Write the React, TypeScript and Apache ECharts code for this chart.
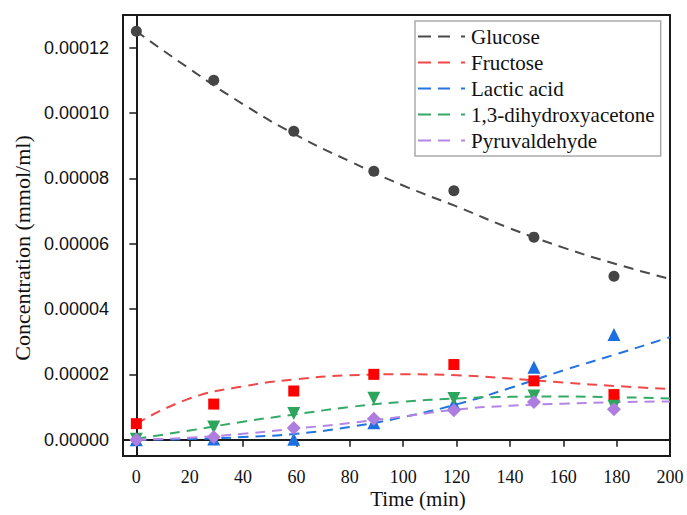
import React, { useEffect, useRef } from "react";
import * as echarts from "echarts";

const timePoints = [0, 29, 59, 89, 119, 149, 179];
const glucosePts = [0.000125, 0.00011, 0.0000944, 0.0000822, 0.0000762, 0.000062, 0.00005];
const fructosePts = [0.0000049, 0.0000109, 0.0000149, 0.00002, 0.000023, 0.000018, 0.0000138];
const lacticPts = [0, 0.0000002, 0.0000001, 0.0000052, 0.000011, 0.0000222, 0.0000322];
const dhaPts = [0.0000001, 0.0000039, 0.000008, 0.0000127, 0.0000126, 0.0000134, 0.0000102];
const pyruPts = [0, 0.0000008, 0.0000036, 0.0000064, 0.000009, 0.0000115, 0.0000093];

const fitTimes = [0, 20, 40, 60, 80, 100, 120, 140, 160, 180, 200];
const glucoseFit = [0.000125, 0.0001135, 0.0001027, 0.0000932, 0.0000852, 0.0000778, 0.0000714, 0.0000647, 0.0000588, 0.0000537, 0.0000492];
const fructoseFit = [0.0000049, 0.0000126, 0.0000163, 0.0000185, 0.0000197, 0.00002, 0.0000197, 0.0000187, 0.0000175, 0.0000164, 0.0000155];
const lacticFit = [0, 0.0000002, 0.0000008, 0.0000018, 0.0000039, 0.0000069, 0.0000108, 0.0000158, 0.0000212, 0.0000262, 0.0000314];
const dhaFit = [0.0000003, 0.0000028, 0.0000055, 0.0000078, 0.00001, 0.0000116, 0.0000126, 0.0000131, 0.0000132, 0.000013, 0.0000126];
const pyruFit = [0, 0.0000006, 0.0000018, 0.0000034, 0.0000051, 0.0000071, 0.0000092, 0.0000104, 0.000011, 0.0000115, 0.0000117];

const seriesNames = ["Glucose", "Fructose", "Lactic acid", "1,3-dihydroxyacetone", "Pyruvaldehyde"];
const xTicks = [0, 20, 40, 60, 80, 100, 120, 140, 160, 180, 200];
const yTicks = [0, 0.00002, 0.00004, 0.00006, 0.00008, 0.0001, 0.00012];

const lineColors = ["#4a4a4a", "#f04848", "#2374e0", "#33aa66", "#b585e6"];
const markColors = ["#454545", "#ff0000", "#1c6fe0", "#2ea55c", "#ad7de0"];
const symbols = ["circle", "rect", "triangle", "triangle", "diamond"];
const symbolSizes = [11, 11, 13, 13, 14];
const symbolRotates = [0, 0, 0, 180, 0];

const SERIF = "'Liberation Serif', 'Times New Roman', serif";
const SANS = "'Liberation Sans', Arial, sans-serif";
const DASH_ICON = "path://M0,0h13v2h-13zM20,0h12v2h-12zM43,0h4v2h-4z";

export default function App() {
  const ref = useRef<HTMLDivElement>(null);
  useEffect(() => {
    if (!ref.current) return;
    const chart = echarts.init(ref.current, undefined, { renderer: "svg" });
    const pts = [glucosePts, fructosePts, lacticPts, dhaPts, pyruPts];
    const fits = [glucoseFit, fructoseFit, lacticFit, dhaFit, pyruFit];
    const series: any[] = [];
    seriesNames.forEach((name, i) => {
      series.push({
        name,
        type: "line",
        smooth: true,
        symbol: "none",
        data: fitTimes.map((t, j) => [t, fits[i][j]]),
        lineStyle: { color: lineColors[i], width: 2, type: [10, 7] },
        itemStyle: { color: lineColors[i] },
        z: 2,
      });
    });
    seriesNames.forEach((name, i) => {
      series.push({
        name: name + " (measured)",
        type: "scatter",
        symbol: symbols[i],
        symbolSize: symbolSizes[i],
        symbolRotate: symbolRotates[i],
        data: timePoints.map((t, j) => [t, pts[i][j]]),
        itemStyle: { color: markColors[i], opacity: 1 },
        z: 3,
      });
    });
    chart.setOption({
      animation: false,
      grid: {
        left: 123,
        top: 15,
        right: 17,
        bottom: 59,
        show: true,
        borderColor: "#1a1a1a",
        borderWidth: 2,
        backgroundColor: "transparent",
      },
      legend: {
        data: seriesNames,
        orient: "vertical",
        left: 415,
        top: 21,
        padding: [5, 6, 5, 3],
        itemGap: 5,
        itemWidth: 49,
        itemHeight: 2,
        icon: DASH_ICON,
        borderColor: "#aaaaaa",
        borderWidth: 1.5,
        backgroundColor: "#ffffff",
        textStyle: { fontFamily: SERIF, fontSize: 21, color: "#111", lineHeight: 21 },
      },
      xAxis: {
        type: "value",
        min: -5,
        max: 200,
        splitLine: { show: false },
        axisLine: { show: true, lineStyle: { color: "#1a1a1a", width: 2 } },
        axisTick: { show: true, length: 7, customValues: xTicks, lineStyle: { color: "#1a1a1a", width: 1.5 } },
        axisLabel: {
          customValues: xTicks,
          margin: 12,
          fontFamily: SERIF,
          fontSize: 18,
          color: "#111",
        },
      },
      yAxis: {
        type: "value",
        min: -0.000005,
        max: 0.00013,
        splitLine: { show: false },
        axisLine: { show: true, lineStyle: { color: "#1a1a1a", width: 2 } },
        axisTick: { show: true, length: 7, customValues: yTicks, lineStyle: { color: "#1a1a1a", width: 1.5 } },
        axisLabel: {
          customValues: yTicks,
          margin: 14,
          fontFamily: SANS,
          fontSize: 18,
          color: "#111",
          formatter: (v: number) => v.toFixed(5),
        },
      },
      graphic: [
        {
          type: "text",
          x: 418,
          y: 499,
          style: {
            text: "Time (min)",
            font: "21px " + SERIF,
            fill: "#111",
            align: "center",
            verticalAlign: "middle",
          },
        },
        {
          type: "text",
          x: 22,
          y: 248,
          rotation: Math.PI / 2,
          style: {
            text: "Concentration (mmol/ml)",
            font: "22px " + SERIF,
            fill: "#111",
            align: "center",
            verticalAlign: "middle",
          },
        },
      ],
      series,
    });
    return () => chart.dispose();
  }, []);
  return (
    <div
      ref={ref}
      style={{ position: "fixed", left: 0, top: 0, width: 687, height: 515, background: "#fff" }}
    />
  );
}
